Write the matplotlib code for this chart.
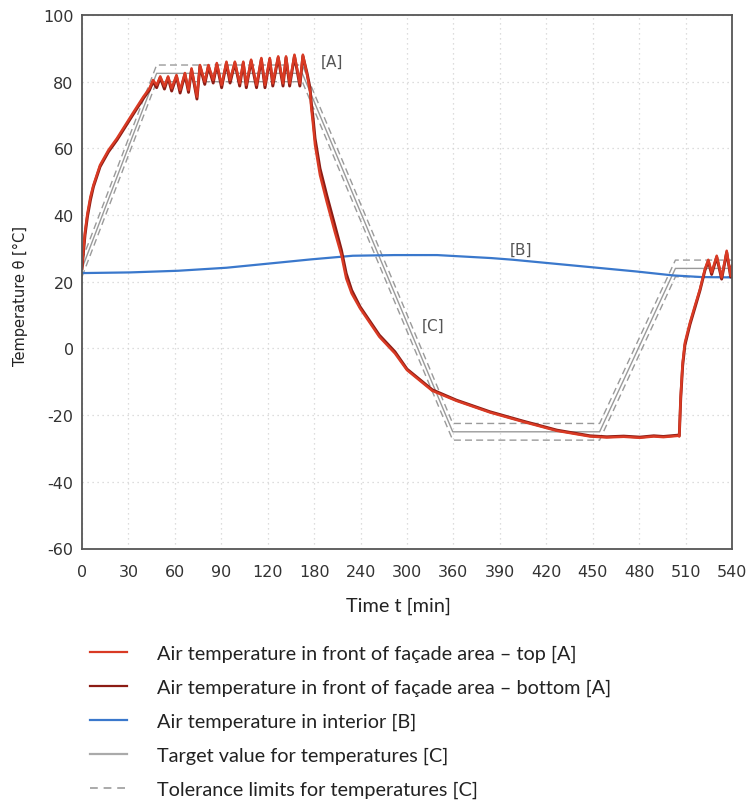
import numpy as np
import matplotlib
matplotlib.use("Agg")
import matplotlib.pyplot as plt
from matplotlib.lines import Line2D

# --- data ---

# time axis: tick positions are evenly spaced, labels are as printed
x_tick_labels = ['0', '30', '60', '90', '120', '180', '240', '300',
                 '360', '390', '420', '450', '480', '510', '540']
y_ticks = [-60, -40, -20, 0, 20, 40, 60, 80, 100]

# facade air temperature, shared time base [min]
t_facade = [0, 1, 2.5, 4.5, 7, 9.5, 15, 22, 29, 36, 43, 51, 56,
            59, 62, 65, 68.5, 71.5, 74.5, 78.5, 81.5, 85.5, 88.5, 91, 95.5,
            98, 102, 105, 109, 112, 116, 120, 123, 127, 131, 134, 136.5,
            140.5, 145, 149, 152, 156, 158.5, 163, 167, 169.5, 172.5, 176.5,
            181, 183.5,
            187, 189.5, 190.5, 192, 193.6, 197.7, 203.3, 210, 215.5, 219.5,
            224, 231, 247, 260, 270, 291, 311, 339, 366.5, 394.5, 422, 436,
            450, 463.5, 475, 483, 495.5,
            496.2, 497.4, 499, 500.9, 505.1, 509.2, 513.4, 517.5, 520.3,
            523.1, 527.3, 531.4, 535.6, 538.9, 540]

temp_top = [24, 29, 35, 40.5, 45.5, 49, 55, 59.5, 63, 67, 71, 75.5, 78,
            80.5, 79, 81.6, 78.6, 81.6, 78, 82, 77.5, 82.6, 77.5, 84, 75.5,
            85, 80, 85, 80.5, 85.6, 79, 86, 80.5, 86, 79.5, 86, 79,
            86.6, 79, 87.1, 79, 87.1, 79.5, 87.6, 79.5, 87.6, 79.5, 88.1,
            79.5, 88.1,
            82, 77, 72, 67, 61, 52, 44, 35, 28, 21,
            16.5, 12, 3.5, -1.5, -6.5, -12.7, -15.7, -19.2, -22, -24.7, -26.4, -26.7,
            -26.5, -26.8, -26.4, -26.6, -26.2,
            -26.4, -14.2, -4.2, 1.8, 7.8, 12.8, 17.8, 23.8, 26.6,
            22.8, 27.8, 21.3, 29.3, 21.8, 24.8]

temp_bottom = [24, 28, 34, 39.5, 44.5, 48.5, 54.5, 59, 62.5, 66.5, 70.5, 75, 77.5,
               80, 78.2, 81.2, 77.8, 81.2, 77.2, 81.6, 76.6, 82.2, 76.8, 83.6, 74.8,
               84.6, 79.2, 84.6, 79.6, 85.2, 78.2, 85.6, 79.6, 85.6, 78.7, 85.6, 78.2,
               86.2, 78.2, 86.7, 78.2, 86.7, 78.7, 87.2, 78.7, 87.2, 78.7, 87.7,
               78.7, 87.7,
               82.5, 78, 73.5, 69, 63, 54, 46, 37, 29.5, 22.5,
               17.5, 12.5, 4, -1, -6.2, -12.4, -15.5, -19, -21.8, -24.5, -26.2, -26.5,
               -26.3, -26.6, -26.2, -26.4, -26.0,
               -26.2, -15, -5.2, 1.0, 7.2, 12.2, 17.4, 23.4, 26.2,
               22.2, 27.4, 20.8, 28.8, 21.4, 24.4]

# interior air temperature [B]
t_interior = [0, 20, 40, 80, 120, 165, 190, 225, 260, 295, 315, 340, 358,
              390, 425, 460, 491, 515, 540]
temp_interior = [22.6, 22.7, 22.8, 23.3, 24.2, 25.8, 26.7, 27.8, 28.0, 28.0,
                 27.6, 27.1, 26.6, 25.5, 24.3, 23.1, 21.9, 21.4, 21.3]

# target value and tolerance limits [C]
t_target = [0, 62, 183, 308, 430, 493, 540]
temp_target = [24, 82.5, 82.5, -25, -25, 24, 24]
temp_tol_upper = [26.5, 85, 85, -22.5, -22.5, 26.5, 26.5]
temp_tol_lower = [21.5, 80, 80, -27.5, -27.5, 21.5, 21.5]

legend_labels = ['Air temperature in front of façade area – top [A]',
                 'Air temperature in front of façade area – bottom [A]',
                 'Air temperature in interior [B]',
                 'Target value for temperatures [C]',
                 'Tolerance limits for temperatures [C]']

# --- styling ---
plt.rcParams['font.family'] = 'DejaVu Sans'
plt.rcParams['axes.unicode_minus'] = False
c_top = '#d93a24'
c_bottom = '#8c1c14'
c_blue = '#3a78cc'
c_gray = '#9a9a9a'
text_font = ['Lato', 'DejaVu Sans']

W, H = 752, 803
fig = plt.figure(figsize=(W / 100, H / 100), dpi=100)
ax = fig.add_axes([82 / W, 1 - 549.5 / H, 650 / W, 533.5 / H])

ax.plot(t_target, temp_tol_upper, color=c_gray, lw=1.0, ls=(0, (5, 3)))
ax.plot(t_target, temp_tol_lower, color=c_gray, lw=1.0, ls=(0, (5, 3)))
ax.plot(t_target, temp_target, color=c_gray, lw=1.0)
ax.plot(t_interior, temp_interior, color=c_blue, lw=1.6)
ax.plot(t_facade, temp_bottom, color=c_bottom, lw=2.1)
ax.plot(t_facade, temp_top, color=c_top, lw=1.8)

ax.text(207.5, 86, '[A]', fontsize=11, color='#555555', ha='center', va='center')
ax.text(365, 29.8, '[B]', fontsize=11, color='#555555', ha='center', va='center')
ax.text(292, 6.8, '[C]', fontsize=11, color='#555555', ha='center', va='center')

ax.set_xlim(0, 540)
ax.set_ylim(-60, 100)
ax.set_xticks(np.linspace(0, 540, len(x_tick_labels)))
ax.set_xticklabels(x_tick_labels)
ax.set_yticks(y_ticks)
ax.tick_params(length=0, labelsize=11.5, colors='#333333')
ax.tick_params(axis='x', pad=11)
ax.tick_params(axis='y', pad=6)
ax.grid(True, color='#d2d2d2', ls=(0, (1, 3)), lw=0.9)
for sp in ax.spines.values():
    sp.set_color('#555555')
    sp.set_linewidth(1.3)

fig.text(20 / W, 1 - 296 / H, 'Temperature θ [°C]', rotation=90, fontsize=10.5,
         color='#222222', ha='center', va='center')
fig.text(398 / W, 1 - 606 / H, 'Time t [min]', fontsize=14.3,
         family=text_font, color='#222222', ha='center', va='center')

handles = [Line2D([], [], color=c_top, lw=1.6),
           Line2D([], [], color=c_bottom, lw=1.6),
           Line2D([], [], color=c_blue, lw=1.6),
           Line2D([], [], color='#aaaaaa', lw=1.6),
           Line2D([], [], color='#aaaaaa', lw=1.4, ls=(0, (4, 3)))]
leg = fig.legend(handles, legend_labels, loc='upper left',
                 bbox_to_anchor=(90 / W, 1 - 646 / H), frameon=False,
                 prop={'family': text_font, 'size': 14.3},
                 handlelength=1.86, handletextpad=1.5, labelspacing=0.84,
                 borderpad=0, borderaxespad=0)
for txt in leg.get_texts():
    txt.set_color('#222222')

fig.savefig('out.png', dpi=100)
